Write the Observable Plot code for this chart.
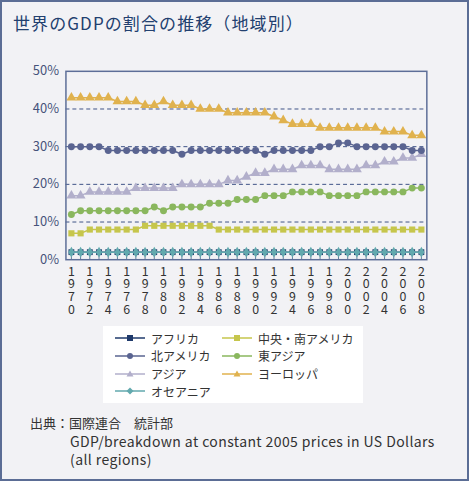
<!DOCTYPE html>
<html>
<head>
<meta charset="utf-8">
<script src="https://cdn.jsdelivr.net/npm/d3@7"></script>
<script src="https://cdn.jsdelivr.net/npm/@observablehq/plot@0.6"></script>
<style>
  html, body { margin: 0; padding: 0; background: #f2f2f5; }
  #frame { position: relative; width: 469px; height: 481px; box-sizing: border-box;
           border: 2px solid #5b6d95; background: #f2f2f5; overflow: hidden;
           font-family: "Noto Sans CJK JP", "Noto Sans", sans-serif; }
  #title { position: absolute; left: 11px; top: 8px; font-size: 17px; font-weight: 400;
           letter-spacing: 1.1px; color: #22406f; white-space: nowrap; }
  #chart { position: absolute; left: -2px; top: 48px; }
  #legend { position: absolute; left: 101px; top: 324px; width: 260px; height: 77px; background: #ffffff; }
  .item { position: absolute; display: flex; align-items: center; font-size: 12px; color: #333; white-space: nowrap; }
  .item svg { margin-right: 6px; }
  #caption { position: absolute; left: 28px; top: 412px; font-size: 13px; line-height: 18px; color: #333; }
  #caption .indent { padding-left: 40px; font-size: 14px; letter-spacing: 0.4px; }
</style>
</head>
<body>
<div id="frame">
  <div id="title">世界のGDPの割合の推移（地域別）</div>
  <div id="chart"></div>
  <div id="legend"></div>
  <div id="caption">
    <div>出典：国際連合　統計部</div>
    <div class="indent">GDP/breakdown at constant 2005 prices in US Dollars</div>
    <div class="indent">(all regions)</div>
  </div>
</div>
<script>
// ---- data ----
const years = [1970,1971,1972,1973,1974,1975,1976,1977,1978,1979,
               1980,1981,1982,1983,1984,1985,1986,1987,1988,1989,
               1990,1991,1992,1993,1994,1995,1996,1997,1998,1999,
               2000,2001,2002,2003,2004,2005,2006,2007,2008];
const labelYears = [1970,1972,1974,1976,1978,1980,1982,1984,1986,1988,
                    1990,1992,1994,1996,1998,2000,2002,2004,2006,2008];
const yTicks = [0,10,20,30,40,50];
const gridLines = [10,20,30,40];

const seriesNames = ["アフリカ","中央・南アメリカ","北アメリカ","東アジア","アジア","ヨーロッパ","オセアニア"];

const africa      = [2,2,2,2,2,2,2,2,2,2, 2,2,2,2,2,2,2,2,2,2, 2,2,2,2,2,2,2,2,2,2, 2,2,2,2,2,2,2,2,2];
const centralSouthAmerica = [7,7,8,8,8,8,8,8,9,9, 9,9,9,9,9,9,8,8,8,8, 8,8,8,8,8,8,8,8,8,8, 8,8,8,8,8,8,8,8,8];
const northAmerica = [30,30,30,30,29,29,29,29,29,29, 29,29,28,29,29,29,29,29,29,29, 29,28,29,29,29,29,29,30,30,31, 31,30,30,30,30,30,30,29,29];
const eastAsia    = [12,13,13,13,13,13,13,13,13,14, 13,14,14,14,14,15,15,15,16,16, 16,17,17,17,18,18,18,18,17,17, 17,17,18,18,18,18,18,19,19];
const asia        = [17,17,18,18,18,18,18,19,19,19, 19,19,20,20,20,20,20,21,21,22, 23,23,24,24,24,25,25,25,24,24, 24,24,25,25,26,26,27,27,28];
const europe      = [43,43,43,43,43,42,42,42,41,41, 42,41,41,41,40,40,40,39,39,39, 39,39,38,37,36,36,36,35,35,35, 35,35,35,35,34,34,34,33,33];
const oceania     = [2,2,2,2,2,2,2,2,2,2, 2,2,2,2,2,2,2,2,2,2, 2,2,2,2,2,2,2,2,2,2, 2,2,2,2,2,2,2,2,2];

// ---- styles ----
const styles = {
  "アフリカ":        {values: africa, color: "#1f3a6b", symbol: "square", r: 3.3},
  "中央・南アメリカ": {values: centralSouthAmerica, color: "#c6c64c", symbol: "square", r: 3.5},
  "北アメリカ":      {values: northAmerica, color: "#5a6491", symbol: "circle", r: 3.5},
  "東アジア":        {values: eastAsia, color: "#8ab75e", symbol: "circle", r: 3.5},
  "アジア":          {values: asia, color: "#b2afcb", symbol: "triangle", r: 3.7},
  "ヨーロッパ":      {values: europe, color: "#e0b24e", symbol: "triangle", r: 3.7},
  "オセアニア":      {values: oceania, color: "#62a9ae", symbol: "diamond", r: 3.3}
};
const drawOrder = ["アジア","ヨーロッパ","北アメリカ","東アジア","中央・南アメリカ","アフリカ","オセアニア"];

const seriesMarks = drawOrder.flatMap(name => {
  const s = styles[name];
  const rows = years.map((year, i) => ({year, value: s.values[i]}));
  return [
    Plot.line(rows, {x: "year", y: "value", stroke: s.color, strokeWidth: 1.5}),
    Plot.dot(rows, {x: "year", y: "value", fill: s.color, symbol: s.symbol, r: s.r, stroke: "none"})
  ];
});

const chart = Plot.plot({
  width: 471,
  height: 270,
  marginTop: 21,
  marginLeft: 66,
  marginRight: 41,
  marginBottom: 59,
  style: {background: "transparent", fontFamily: "'Noto Sans CJK JP', 'Noto Sans', sans-serif", fontSize: "13px"},
  x: {domain: [1970, 2008], inset: 5.5, axis: null},
  y: {domain: [0, 50], axis: null},
  marks: [
    Plot.ruleY(gridLines, {y: d => d, stroke: "#3e5286", strokeDasharray: "4,3", strokeWidth: 1}),
    Plot.axisY({ticks: yTicks, tickSize: 0, tickPadding: 7, tickFormat: d => d + "%", fontSize: 13, fill: "#46527a", label: null}),
    Plot.ruleX(years, {x: d => d, y1: 0, y2: 0, insetTop: -5, stroke: "#5f7d9c", strokeWidth: 1}),
    Plot.text(labelYears, {x: d => d, frameAnchor: "bottom", dy: 7, lineAnchor: "top",
      text: d => String(d).split("").join("\n"), fontSize: 12.5, lineHeight: 1.02, fill: "#333"}),
    ...seriesMarks,
    Plot.frame({stroke: "#5d6e98", strokeWidth: 1.5})
  ]
});
document.getElementById("chart").appendChild(chart);

// ---- legend ----
const legend = document.getElementById("legend");
const symbolPaths = {
  square: "M-3,-3h6v6h-6z",
  circle: "M3,0A3,3 0 1,1 -3,0A3,3 0 1,1 3,0z",
  triangle: "M0,-3.5L3.5,2.5H-3.5z",
  diamond: "M0,-3.5L3.5,0L0,3.5L-3.5,0z"
};
seriesNames.forEach((name, i) => {
  const s = styles[name];
  const col = i % 2, row = Math.floor(i / 2);
  const item = document.createElement("div");
  item.className = "item";
  item.style.left = (col === 0 ? 12 : 119) + "px";
  item.style.top = (3 + row * 17.8) + "px";
  item.innerHTML = `<svg width="30" height="18"><line x1="0" x2="30" y1="9" y2="9" stroke="${s.color}" stroke-width="1.5"/><path transform="translate(15,9)" d="${symbolPaths[s.symbol]}" fill="${s.color}"/></svg><span>${name}</span>`;
  legend.appendChild(item);
});
</script>
</body>
</html>
